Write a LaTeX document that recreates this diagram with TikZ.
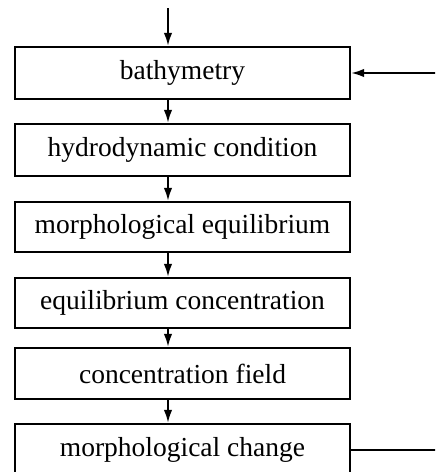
\documentclass[tikz,border=0pt]{standalone}
\usepackage{fontspec}
\setmainfont{Liberation Serif}
\usetikzlibrary{arrows.meta}
\begin{document}
\begin{tikzpicture}[x=0.5pt,y=-0.5pt,
  box/.style={draw, line width=1.1pt, minimum width=167.5pt, inner sep=0pt,
    font=\fontsize{13.75}{16}\selectfont},
  arr/.style={line width=1pt, -{Latex[length=6.5pt,width=4.2pt]}},
  ln/.style={line width=1pt}]
\useasboundingbox (0,0) rectangle (435,472);
\clip (0,0) rectangle (435,472);
\node[box, minimum height=26pt] (b1) at (182.5,73) {bathymetry};
\node[box, minimum height=26pt] (b2) at (182.5,150) {hydrodynamic condition};
\node[box, minimum height=25pt] (b3) at (182.5,227) {morphological equilibrium};
\node[box, minimum height=25pt] (b4) at (182.5,303) {equilibrium concentration};
\node[box, minimum height=25.5pt] (b5) at (182.5,373.5) {concentration field};
\node[box, minimum height=25.5pt] (b6) at (182.5,449.5) {morphological change};
\coordinate (ax) at (168,0);
\coordinate (in) at (168,8);
\coordinate (fb1) at (436,73);
\coordinate (fb2) at (436,449.5);
\draw[arr] (in) -- (b1.north -| ax);
\draw[arr] (b1.south -| ax) -- (b2.north -| ax);
\draw[arr] (b2.south -| ax) -- (b3.north -| ax);
\draw[arr] (b3.south -| ax) -- (b4.north -| ax);
\draw[arr] (b4.south -| ax) -- (b5.north -| ax);
\draw[arr] (b5.south -| ax) -- (b6.north -| ax);
\draw[arr] (fb1) -- (b1.east);
\draw[ln] (b6.east) -- (fb2);
\end{tikzpicture}
\end{document}
